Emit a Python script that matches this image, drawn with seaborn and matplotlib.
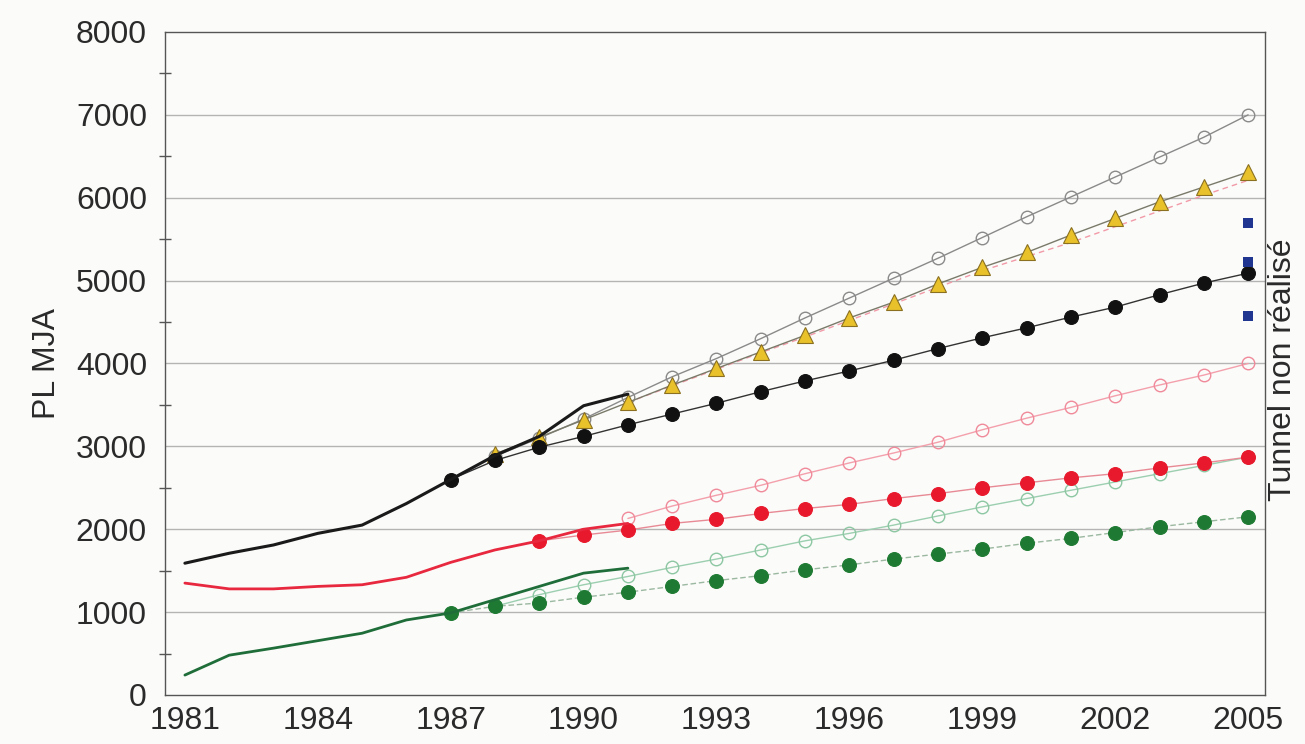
import matplotlib
matplotlib.use("Agg")
import matplotlib.pyplot as plt
import seaborn as sns
import numpy as np

# ---------------- data ----------------
hist_years = [1981, 1982, 1983, 1984, 1985, 1986, 1987, 1988, 1989, 1990, 1991]
hist_black = [1590, 1710, 1810, 1950, 2050, 2310, 2600, 2890, 3120, 3490, 3630]
hist_red = [1350, 1280, 1280, 1310, 1330, 1420, 1600, 1750, 1860, 2000, 2070]
hist_green = [240, 480, 565, 655, 745, 905, 990, 1150, 1310, 1470, 1530]

# black filled dots (1987-2005)
black_years = list(range(1987, 2006))
black_dots = [2600, 2830, 2990, 3120, 3260, 3390, 3520, 3660, 3790, 3910, 4040,
              4180, 4310, 4430, 4560, 4680, 4830, 4970, 5090]

# grey open circles (1988-2005)
grey_years = list(range(1988, 2006))
grey_open = [2880, 3100, 3330, 3590, 3840, 4060, 4300, 4550, 4790, 5030, 5270,
             5520, 5770, 6010, 6250, 6490, 6730, 7000]

# yellow triangles (1988-2005)
tri_years = list(range(1988, 2006))
tri_vals = [2910, 3110, 3320, 3530, 3740, 3940, 4140, 4340, 4550, 4740, 4960,
            5160, 5340, 5550, 5750, 5950, 6130, 6310]

# pink dashed line under the triangles (1991-2005)
pinkd_years = list(range(1991, 2006))
pinkd_vals = [3530, 3730, 3930, 4130, 4320, 4520, 4720, 4920, 5120, 5290, 5460,
              5650, 5840, 6030, 6210]

# pink open circles (1991-2005)
pinko_years = list(range(1991, 2006))
pinko_vals = [2130, 2280, 2410, 2530, 2670, 2800, 2920, 3050, 3200, 3340, 3470,
              3610, 3740, 3860, 4000]

# red filled dots (1989-2005)
red_years = list(range(1989, 2006))
red_dots = [1860, 1930, 1990, 2070, 2120, 2190, 2250, 2300, 2370, 2430, 2500,
            2560, 2620, 2670, 2740, 2800, 2870]

# light green open circles (1988-2005)
greeno_years = list(range(1988, 2006))
greeno_vals = [1070, 1210, 1330, 1430, 1540, 1640, 1750, 1860, 1950, 2050, 2160,
               2270, 2370, 2470, 2570, 2670, 2770, 2870]

# green filled dots (1987-2005)
green_years = list(range(1987, 2006))
green_dots = [990, 1070, 1110, 1180, 1240, 1310, 1380, 1440, 1510, 1570, 1640,
              1700, 1760, 1830, 1890, 1960, 2030, 2090, 2150]

# blue squares "Tunnel non réalisé" (2005)
sq_years = [2005, 2005, 2005]
sq_vals = [5690, 5220, 4570]

xtick_labels = ["1981", "1984", "1987", "1990", "1993", "1996", "1999", "2002", "2005"]
ytick_vals = [0, 1000, 2000, 3000, 4000, 5000, 6000, 7000, 8000]

# ---------------- style ----------------
sns.set_theme(style="white")
plt.rcParams["font.family"] = ["Liberation Sans", "DejaVu Sans"]

fig = plt.figure(figsize=(13.05, 7.44), dpi=100)
fig.patch.set_facecolor("#fbfbf9")
ax = fig.add_axes([0.1264, 0.0659, 0.9693 - 0.1264, 0.957 - 0.0659])
ax.set_facecolor("#fbfbf9")

# grid lines
for v in ytick_vals[1:-1]:
    ax.axhline(v, color="#b4b4b4", lw=1.0, zorder=0)

# projections
sns.lineplot(x=grey_years, y=grey_open, ax=ax, color="#8a8a8a", lw=1.0,
             marker="o", markersize=9, markerfacecolor="none",
             markeredgecolor="#8a8a8a", markeredgewidth=1.0, zorder=2)
sns.lineplot(x=pinkd_years, y=pinkd_vals, ax=ax, color="#f29aa8", lw=1.0,
             linestyle=(0, (4, 3)), zorder=2)
sns.lineplot(x=tri_years, y=tri_vals, ax=ax, color="#7a7a6a", lw=1.0,
             marker="^", markersize=11, markerfacecolor="#e9c12a",
             markeredgecolor="#8a7020", markeredgewidth=0.8, zorder=3)
sns.lineplot(x=black_years, y=black_dots, ax=ax, color="#333333", lw=1.0,
             marker="o", markersize=10, markerfacecolor="#111111",
             markeredgecolor="#111111", zorder=3)
sns.lineplot(x=pinko_years, y=pinko_vals, ax=ax, color="#f4a0ac", lw=1.0,
             marker="o", markersize=9, markerfacecolor="none",
             markeredgecolor="#f08a9a", markeredgewidth=1.0, zorder=2)
sns.lineplot(x=greeno_years, y=greeno_vals, ax=ax, color="#9ccfb0", lw=1.0,
             marker="o", markersize=9, markerfacecolor="none",
             markeredgecolor="#8cc7a2", markeredgewidth=1.0, zorder=2)
sns.lineplot(x=red_years, y=red_dots, ax=ax, color="#e88a95", lw=1.0,
             marker="o", markersize=10, markerfacecolor="#e8192c",
             markeredgecolor="#e8192c", zorder=3)
sns.lineplot(x=green_years, y=green_dots, ax=ax, color="#9bb8a0", lw=1.0,
             linestyle=(0, (4, 2)),
             marker="o", markersize=10, markerfacecolor="#1e7a32",
             markeredgecolor="#1e7a32", zorder=3)

# historical series
sns.lineplot(x=hist_years, y=hist_black, ax=ax, color="#1a1a1a", lw=2.2, zorder=4)
sns.lineplot(x=hist_years, y=hist_red, ax=ax, color="#e8283e", lw=2.0, zorder=4)
sns.lineplot(x=hist_years, y=hist_green, ax=ax, color="#1f6e3a", lw=2.0, zorder=4)

# squares
sns.scatterplot(x=sq_years, y=sq_vals, ax=ax, marker="s", s=55, color="#1f3590",
                edgecolor="#1f3590", linewidth=0, zorder=5)

# ---------------- axes ----------------
ax.set_xlim(1980.55, 2005.38)
ax.set_ylim(0, 8000)

years_all = list(range(1981, 2006))
ax.set_xticks(years_all)
ax.set_xticklabels([str(y) if str(y) in xtick_labels else "" for y in years_all])
ax.set_yticks(ytick_vals)
ax.set_yticklabels([str(v) for v in ytick_vals])
ax.set_yticks(np.arange(500, 8000, 1000), minor=True)

ax.tick_params(axis="x", which="major", direction="inout", length=14, width=1.0,
               color="#555555", labelsize=23, labelcolor="#2a2a2a", pad=1)
ax.tick_params(axis="y", which="major", direction="inout", length=16, width=1.0,
               color="#555555", labelsize=23, labelcolor="#2a2a2a", pad=5)
ax.tick_params(axis="y", which="minor", direction="inout", length=8, width=1.0,
               color="#555555", left=True)

for s in ax.spines.values():
    s.set_visible(True)
    s.set_color("#555555")
    s.set_linewidth(1.0)

ax.set_xlabel("")
ax.set_ylabel("PL MJA", fontsize=23, color="#2a2a2a", labelpad=10)
ax.text(1.003, 0.49, "Tunnel non réalisé", transform=ax.transAxes, rotation=90,
        ha="left", va="center", fontsize=23, color="#2a2a2a")

fig.savefig("out.png", dpi=100, facecolor=fig.get_facecolor())
